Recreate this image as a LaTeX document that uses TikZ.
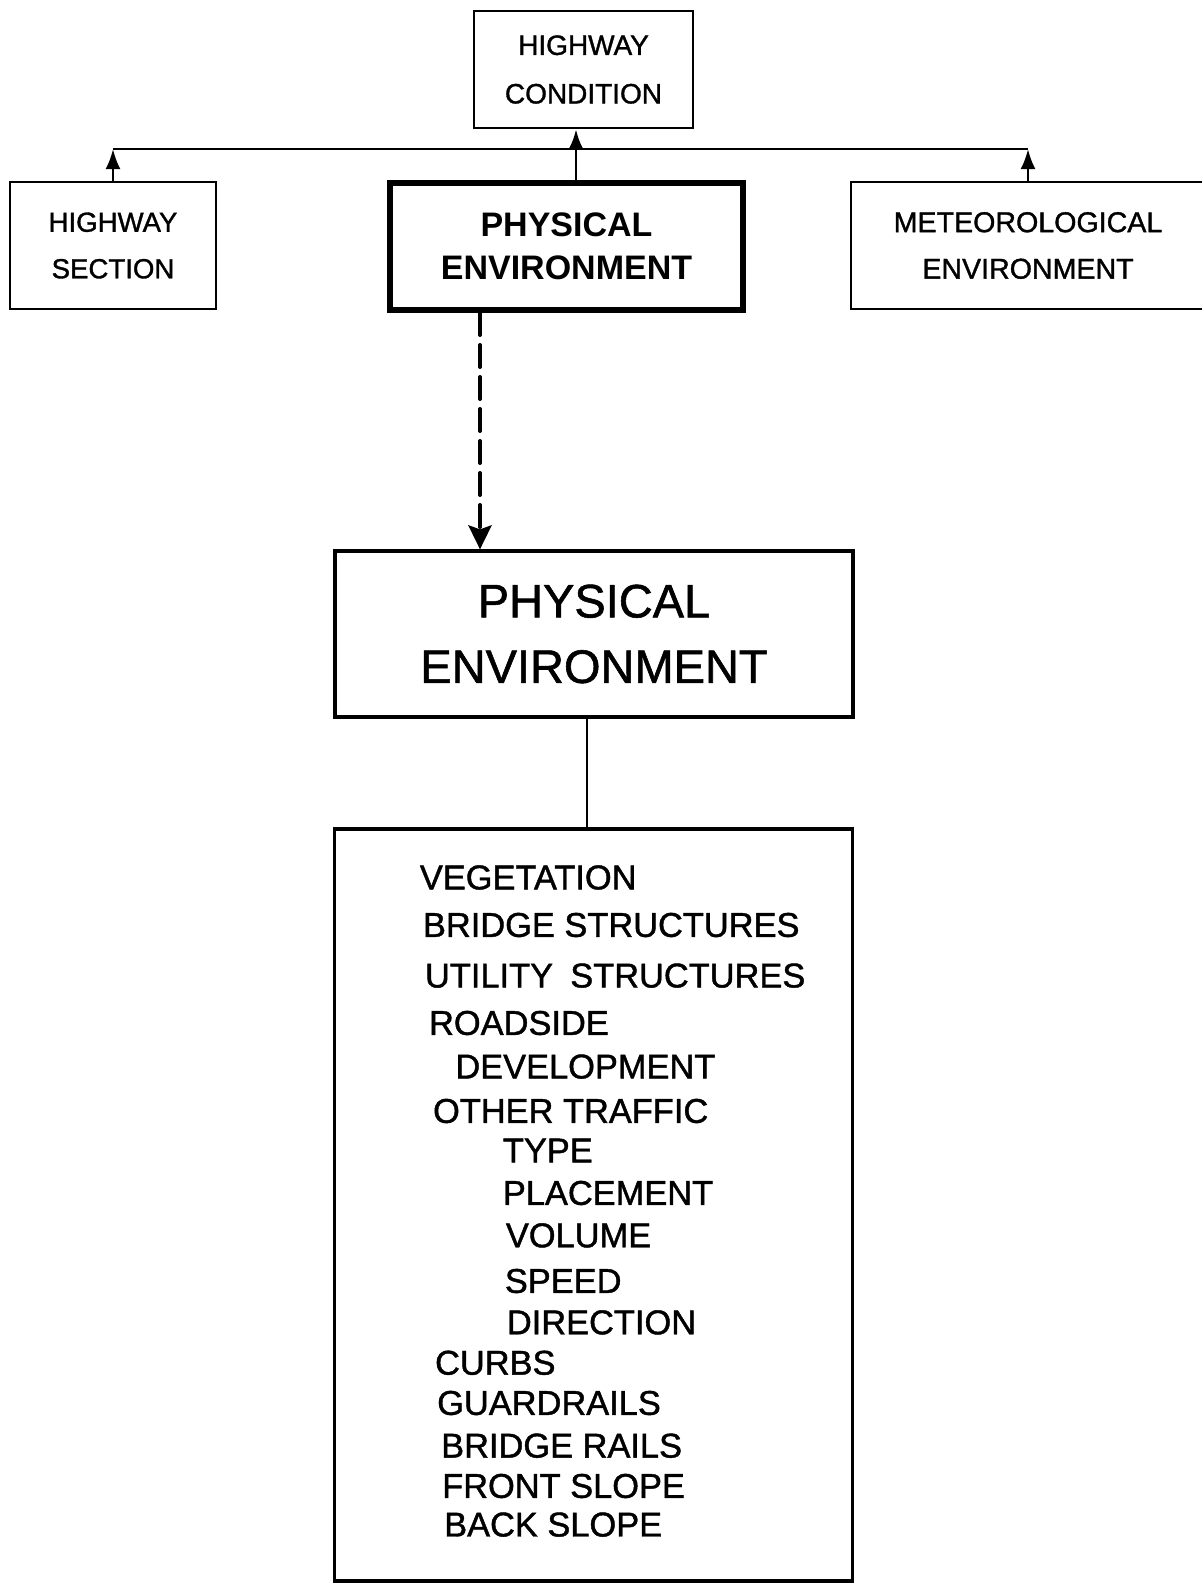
\documentclass[tikz,border=0pt]{standalone}
\usepackage{fontspec}
\setmainfont{Liberation Sans}
\newfontfamily\letterfont[FakeBold=1.2]{Liberation Sans}
\usetikzlibrary{arrows.meta, positioning}
\tikzstyle{smallbox}=[rectangle, draw=black, line width=1.4pt, minimum height=63.5pt, text centered, align=center, font=\fontsize{13.8}{23.25}\selectfont\letterfont]
\tikzstyle{thickbox}=[rectangle, draw=black, line width=3pt, minimum width=176.5pt, minimum height=63.5pt, text centered, align=center, font=\fontsize{17}{21.5}\selectfont\bfseries]
\tikzstyle{bigbox}=[rectangle, draw=black, line width=1.6pt, minimum width=259pt, text centered, align=center]
\tikzstyle{item}=[anchor=west, inner sep=0pt, font=\fontsize{17.2}{20}\selectfont\letterfont]
\tikzstyle{arrow}=[line width=1.3pt, -{Latex[length=10pt, width=7.5pt]}]
\tikzstyle{dasharrow}=[line width=2pt, line cap=round, dash pattern=on 11pt off 5pt, -{Stealth[length=12pt, width=11.5pt, inset=2pt]}]

\begin{document}
\begin{tikzpicture}[x=0.5pt, y=-0.5pt]
		\useasboundingbox (0,0) rectangle (1201,1585);
		
		\node(cond)[smallbox, minimum width=109.5pt, minimum height=58.5pt, font=\fontsize{14}{24.25}\selectfont\letterfont] at (583.5,69.5) {HIGHWAY\\CONDITION};
		
		\node(sect)[smallbox, minimum width=103pt] at (113,245.5) {HIGHWAY\\SECTION};
		
		\node(phys)[thickbox] at (566.5,246.5) {PHYSICAL\\ENVIRONMENT};
		
		\node(meteo)[smallbox, minimum width=177pt, font=\fontsize{14.3}{23.25}\selectfont\letterfont] at (1028,245.5) {METEOROLOGICAL\\ENVIRONMENT};
		
		
		\node(physbig)[bigbox, minimum height=83pt, font=\fontsize{23.5}{32.75}\selectfont\letterfont] at (594,634) {PHYSICAL\\ENVIRONMENT};
		
		\node(items)[bigbox, minimum height=376pt] at (593.5,1205) {};
		
		% list inside the lower box
		\node(item1)[item] at (419.5,877.5) {VEGETATION};
		\node(item2)[item] at (422.6,925) {BRIDGE STRUCTURES};
		\node(item3)[item] at (424.6,975.6) {UTILITY\enspace STRUCTURES};
		\node(item4)[item] at (428.7,1023) {ROADSIDE};
		\node(item5)[item] at (455,1066.6) {DEVELOPMENT};
		\node(item6)[item] at (432.7,1111) {OTHER TRAFFIC};
		\node(item7)[item] at (502.5,1150.5) {TYPE};
		\node(item8)[item] at (502.5,1193) {PLACEMENT};
		\node(item9)[item] at (505.5,1235.4) {VOLUME};
		\node(item10)[item] at (504.5,1281) {SPEED};
		\node(item11)[item] at (506.5,1322.4) {DIRECTION};
		\node(item12)[item] at (434.7,1362.8) {CURBS};
		\node(item13)[item] at (436.8,1403) {GUARDRAILS};
		\node(item14)[item] at (440.8,1445.7) {BRIDGE RAILS};
		\node(item15)[item] at (441.8,1486) {FRONT SLOPE};
		\node(item16)[item] at (443.8,1524.6) {BACK SLOPE};
		
		\coordinate(bus) at (576,149);
		\coordinate(dashx) at (480,0);
		\coordinate(link) at (587,0);
		
		\draw[line width=1.3pt](sect.north |- bus)--(meteo.north |- bus);
		\draw[arrow](sect.north)--(sect.north |- bus);
		\draw[arrow](meteo.north)--(meteo.north |- bus);
		\draw[arrow](phys.north -| bus)--(cond.south -| bus);
		\draw[dasharrow](phys.south -| dashx)--(physbig.north -| dashx);
		\draw[line width=1.4pt](physbig.south -| link)--(items.north -| link);
		
	\end{tikzpicture}
\end{document}
